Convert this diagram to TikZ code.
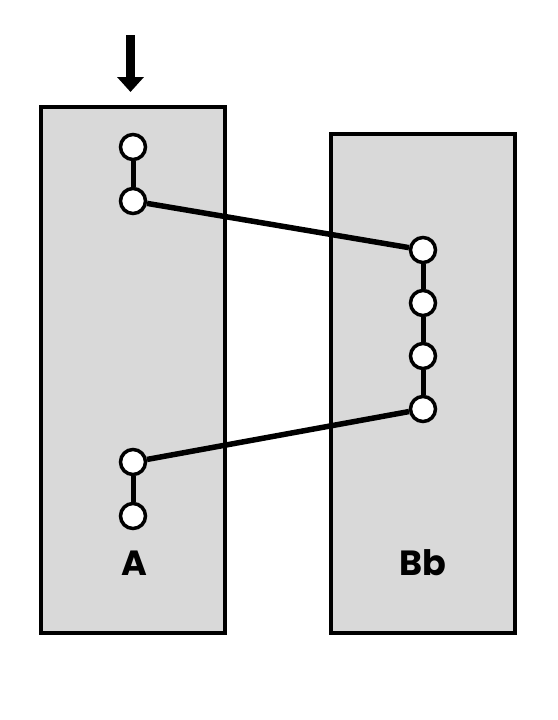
\documentclass[tikz,border=0pt]{standalone}
\usepackage{fontspec}
\newfontfamily\labfont{Poppins}
\usetikzlibrary{arrows.meta}
\begin{document}
\begin{tikzpicture}[x=1pt,y=-1pt,
  box/.style={draw=black,line width=3.5pt,fill=black!15},
  pin/.style={circle,draw=black,line width=3.5pt,fill=white,minimum size=25pt,inner sep=0pt},
  chain/.style={line width=5pt},
  link/.style={line width=5.5pt},
  lab/.style={font=\labfont\bfseries\fontsize{35}{35}\selectfont}]
\useasboundingbox (0,0) rectangle (557,720);
\node[box,minimum width=184pt,minimum height=526pt,inner sep=0pt] (A) at (133,370) {};
\node[box,minimum width=184pt,minimum height=499pt,inner sep=0pt] (B) at (423,383.5) {};
\coordinate (arrtop) at (130.5,35);
\coordinate (arrbot) at (130.5,92);
\draw[line width=8.5pt,-{Triangle[width=26pt,length=15pt]}] (arrtop) -- (arrbot);
\node[pin] (a1) at (133,147) {};
\node[pin] (a2) at (133,201) {};
\node[pin] (a3) at (133,462) {};
\node[pin] (a4) at (133,516) {};
\node[pin] (b1) at (423,250) {};
\node[pin] (b2) at (423,303) {};
\node[pin] (b3) at (423,356) {};
\node[pin] (b4) at (423,409) {};
\draw[chain] (a1) -- (a2);
\draw[chain] (a3) -- (a4);
\draw[chain] (b1) -- (b2);
\draw[chain] (b2) -- (b3);
\draw[chain] (b3) -- (b4);
\draw[link] (a2) -- (b1);
\draw[link] (b4) -- (a3);
\node[lab,anchor=base] (la) at (134,575) {A};
\node[lab,anchor=base] (lb) at (423,575) {Bb};
\end{tikzpicture}
\end{document}
